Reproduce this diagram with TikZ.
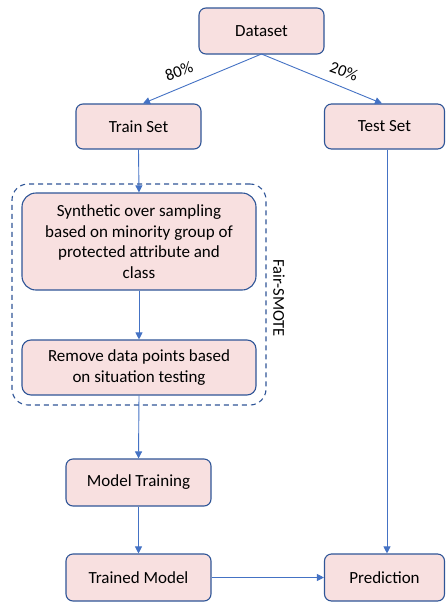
\documentclass[tikz,border=0pt]{standalone}
\usepackage{fontspec}
\setmainfont{Carlito}
\usetikzlibrary{arrows.meta}
\definecolor{boxfill}{HTML}{F8E0E0}
\definecolor{boxline}{HTML}{2F5597}
\definecolor{arrowc}{HTML}{4472C4}
\begin{document}
\begin{tikzpicture}[x=1pt,y=-1pt,
  box/.style={draw=boxline,fill=boxfill,line width=1.1pt,rounded corners=7pt,align=center,inner sep=0pt,font=\fontsize{17}{20.5}\selectfont},
  conn/.style={draw=arrowc,line width=0.9pt,-{Triangle[length=7pt,width=7pt]}},
  lbl/.style={font=\fontsize{16.5}{18}\selectfont,inner sep=1pt}]
\useasboundingbox (0,0) rectangle (445,603);
\node[box,minimum width=125pt,minimum height=46pt] (ds) at (261.5,31) {Dataset};
\node[box,minimum width=125pt,minimum height=45pt] (tr) at (138.5,126.5) {Train Set};
\node[box,minimum width=120pt,minimum height=45pt] (te) at (384.5,126.5) {Test Set};
\node[box,minimum width=234pt,minimum height=97pt,rounded corners=14pt] (syn) at (139,241.5) {Synthetic over sampling\\based on minority group of\\protected attribute and\\class};
\node[box,minimum width=234pt,minimum height=55pt,rounded corners=9pt] (rem) at (139,367.5) {Remove data points based\\on situation testing};
\node[box,minimum width=145pt,minimum height=47pt] (mt) at (138.5,482.5) {Model Training};
\node[box,minimum width=145pt,minimum height=47pt] (tm) at (138.5,577.5) {Trained Model};
\node[box,minimum width=120pt,minimum height=47pt] (pr) at (384.5,577.5) {Prediction};
\node[draw=boxline,line width=1.1pt,dash pattern=on 5pt off 4pt,rounded corners=16pt,minimum width=254pt,minimum height=221pt,inner sep=0pt] (fs) at (139,294.5) {};
\node[lbl,rotate=-90] (fsl) at (279,298) {Fair-SMOTE};
\coordinate (dsb) at (261.5,54);
\draw[conn] (dsb) -- (tr.north -| 143,0);
\draw[conn] (dsb) -- (te.north -| 382,0);
\node[lbl,rotate=20] (p80) at (179,71) {80\%};
\node[lbl,rotate=-20] (p20) at (344,71) {20\%};
\draw[conn] (tr.south) -- (syn.north);
\draw[conn] (syn.south) -- (rem.north);
\draw[conn] (rem.south) -- (mt.north);
\draw[conn] (mt.south) -- (tm.north);
\draw[conn] (tm.east) -- (pr.west);
\draw[conn] (te.south -| 387,0) -- (pr.north -| 387,0);
\end{tikzpicture}
\end{document}
